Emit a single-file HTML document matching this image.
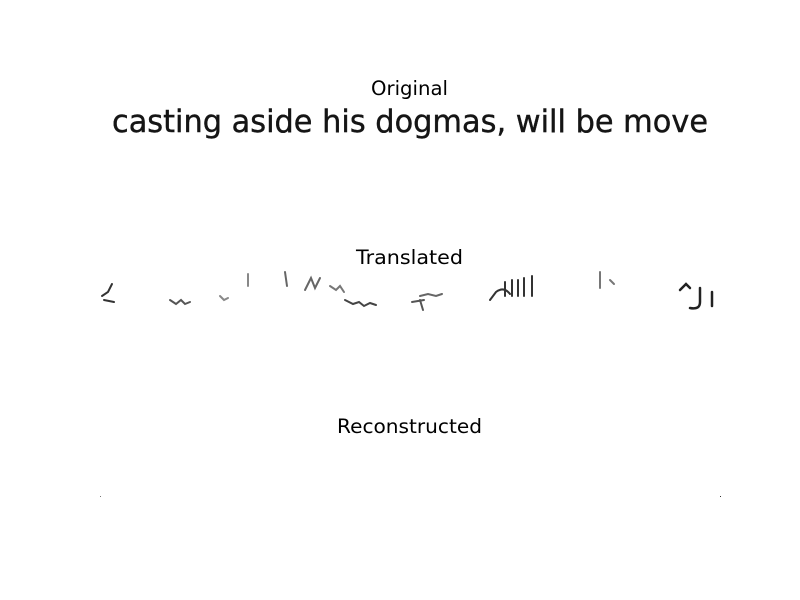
<!DOCTYPE html>
<html><head><meta charset="utf-8"><style>
html,body{margin:0;padding:0;background:#fff;}
svg{display:block;}
text{font-family:"DejaVu Sans","Liberation Sans",sans-serif;}
</style></head><body>
<svg width="800" height="600" viewBox="0 0 800 600">
<rect width="800" height="600" fill="#fff"/>
<g>
<text x="371" y="95" font-size="19.5" textLength="77" lengthAdjust="spacingAndGlyphs" fill="#000">Original</text>
<text x="112" y="132" font-size="31" textLength="596" lengthAdjust="spacingAndGlyphs" fill="#151515" stroke="#151515" stroke-width="0.4">casting aside his dogmas, will be move</text>
</g>
<g>
<text x="356" y="264" font-size="19.5" textLength="107" lengthAdjust="spacingAndGlyphs" fill="#000">Translated</text>
<g fill="none" stroke="#333" stroke-width="2" stroke-linecap="round">
<path d="M102 296 l6 -4 l4 -8 M104 300 l10 2"/>
<path d="M170 300 l6 4 l5 -4 l4 4 l5 -2" stroke="#555"/>
<path d="M220 296 l4 4 l4 -2 M248 274 l0 12" stroke="#888"/>
<path d="M285 272 l2 14 M305 290 l6 -12 l4 10 l5 -10" stroke="#666"/>
<path d="M330 286 l6 4 l4 -4 l4 6" stroke="#777"/>
<path d="M345 300 l8 4 l6 -2 l5 4 l6 -3 l6 2" stroke="#444"/>
<path d="M420 300 l3 10 M412 302 l12 -2" stroke="#555"/>
<path d="M420 296 l8 -2 l8 2 l6 -2" stroke="#666"/>
<path d="M490 300 l6 -8 q8 -6 14 2 M505 282 v14 M512 280 v16 M518 280 v16 M524 278 v18 M532 276 v20" stroke="#333"/>
<path d="M600 272 v16 M610 280 l4 4" stroke="#777"/>
<path d="M680 290 l6 -6 l4 4 M700 288 v14 q0 8 -10 6 M712 292 v14" stroke="#222" stroke-width="2.5"/>
</g>
</g>
<g>
<text x="337" y="433" font-size="19.5" textLength="145" lengthAdjust="spacingAndGlyphs" fill="#000">Reconstructed</text>
<rect x="100" y="496" width="1" height="1" fill="#777"/>
<rect x="720" y="496" width="1" height="1" fill="#333"/>
</g>
</svg>
</body></html>
